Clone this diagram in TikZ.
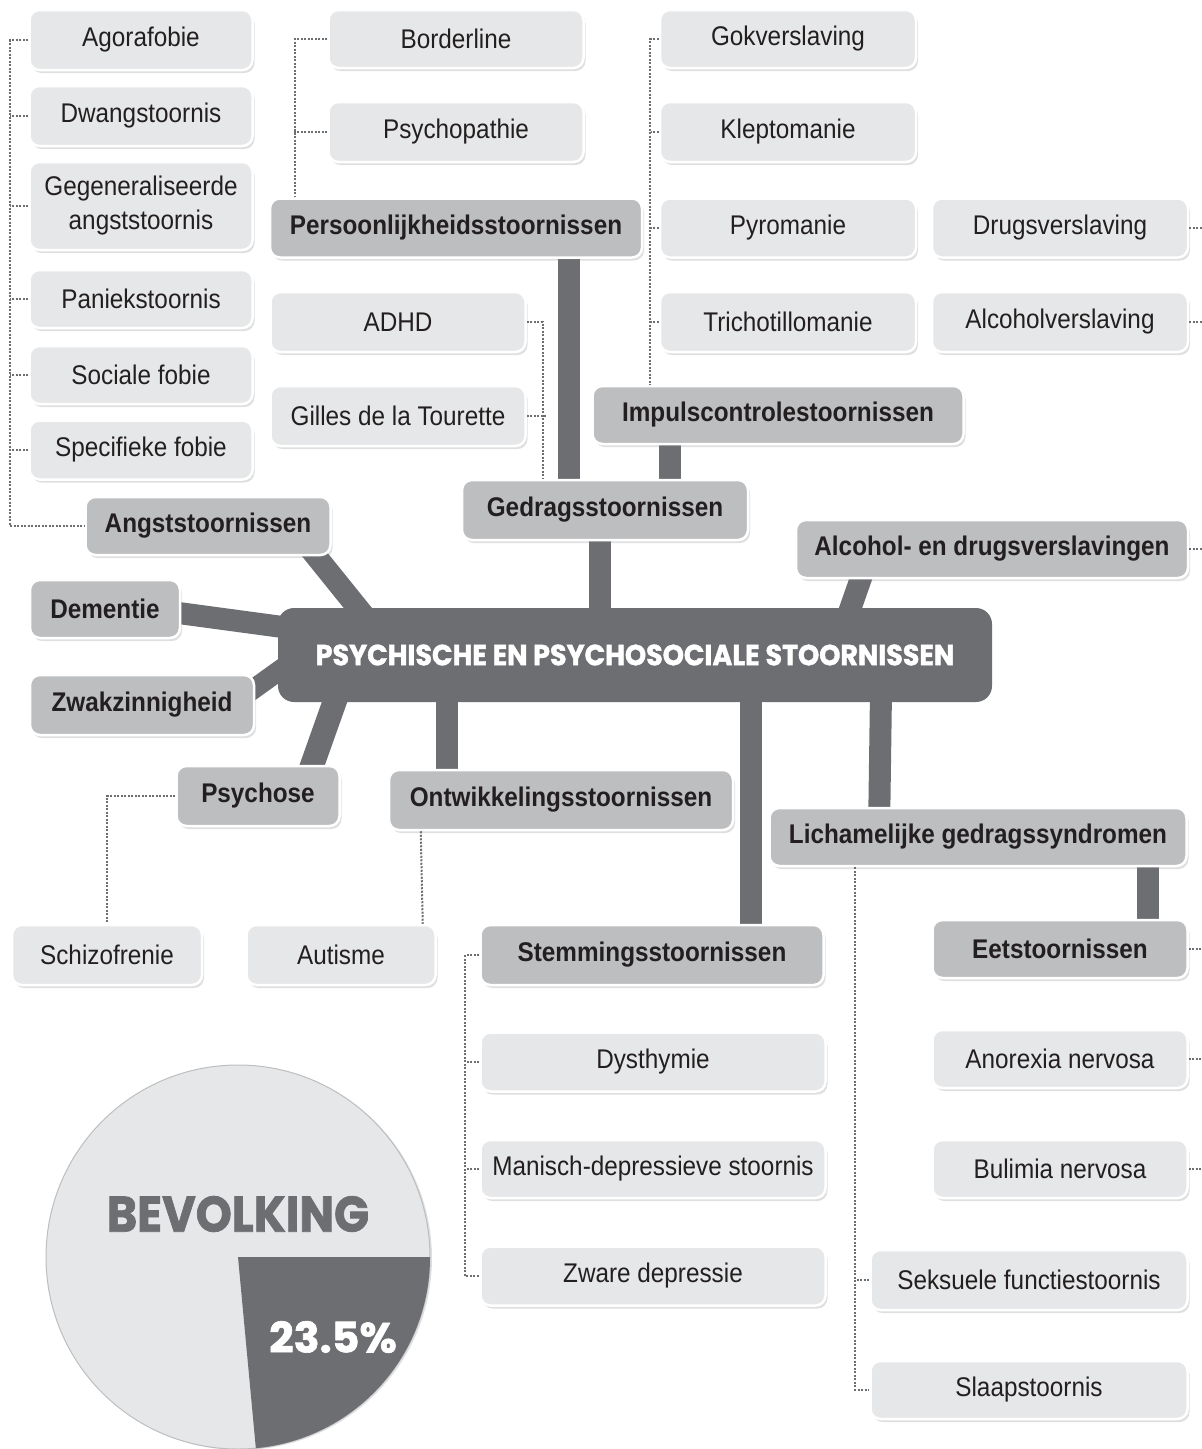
\documentclass[tikz,border=0pt]{standalone}
\usepackage{fontspec}
\setmainfont{Liberation Sans}[FakeStretch=0.9]
\newfontfamily\heavyfont{Poppins}[BoldFeatures={FakeBold=1.5}]
\usetikzlibrary{shadows,calc}
\definecolor{lightbox}{HTML}{E6E7E8}
\definecolor{darkbox}{HTML}{BCBEC0}
\definecolor{coregray}{HTML}{6D6E71}
\definecolor{inktext}{HTML}{231F20}
\pgfdeclarelayer{bg}
\pgfsetlayers{bg,main}
\tikzset{
  basebox/.style={rectangle, rounded corners=10pt, draw=white, line width=2.5pt,
    text=inktext, inner sep=0pt, align=center,
    font=\fontsize{27}{31}\selectfont,
    drop shadow={opacity=0.25, shadow xshift=2pt, shadow yshift=-3pt}},
  lbox/.style={basebox, fill=lightbox},
  dbox/.style={basebox, fill=darkbox, font=\fontsize{27}{31}\selectfont\bfseries},
  bar/.style={draw=coregray, line width=22pt},
  dotline/.style={draw=coregray, line width=2pt, dash pattern=on 2pt off 1.5pt},
}
\begin{document}
\begin{tikzpicture}[x=1pt,y=-1pt]
\useasboundingbox (0,0) rectangle (1202,1449);
% ---- central node
\node[rectangle, rounded corners=16pt, fill=coregray, minimum width=714pt, minimum height=94pt, inner sep=0pt,
  text=white, font=\heavyfont\bfseries\fontsize{29}{32}\selectfont] (core) at (635,655)
  {\scalebox{0.93}[1]{PSYCHISCHE EN PSYCHOSOCIALE STOORNISSEN}};
% ---- anxiety
\node[lbox, minimum width=223pt, minimum height=60pt] (ago) at (141,40) {Agorafobie};
\node[lbox, minimum width=223pt, minimum height=60pt] (dwang) at (141,116) {Dwangstoornis};
\node[lbox, minimum width=223pt, minimum height=88pt] (gegen) at (141,206) {Gegeneraliseerde\\[3pt]angststoornis};
\node[lbox, minimum width=223pt, minimum height=58pt] (paniek) at (141,299) {Paniekstoornis};
\node[lbox, minimum width=223pt, minimum height=58pt] (sociaal) at (141,375) {Sociale fobie};
\node[lbox, minimum width=223pt, minimum height=59pt] (specif) at (141,450) {Specifieke fobie};
\node[dbox, minimum width=245pt, minimum height=58pt] (angst) at (208,526) {Angststoornissen};
% ---- personality
\node[lbox, minimum width=255pt, minimum height=58pt] (border) at (456,39) {Borderline};
\node[lbox, minimum width=255pt, minimum height=60pt] (psychop) at (456,132) {Psychopathie};
\node[dbox, minimum width=372pt, minimum height=59pt] (perso) at (456,228) {Persoonlijkheidsstoornissen};
% ---- impulse control
\node[lbox, minimum width=256pt, minimum height=58pt] (gok) at (788,39) {Gokverslaving};
\node[lbox, minimum width=256pt, minimum height=60pt] (klepto) at (788,132) {Kleptomanie};
\node[lbox, minimum width=256pt, minimum height=59pt] (pyro) at (788,228) {Pyromanie};
\node[lbox, minimum width=256pt, minimum height=60pt] (tricho) at (788,322) {Trichotillomanie};
\node[dbox, minimum width=371pt, minimum height=58pt] (impuls) at (778,415) {Impulscontrolestoornissen};
% ---- addiction
\node[lbox, minimum width=256pt, minimum height=59pt] (drugs) at (1060,228) {Drugsverslaving};
\node[lbox, minimum width=256pt, minimum height=60pt] (alcohol) at (1060,322) {Alcoholverslaving};
\node[dbox, minimum width=392pt, minimum height=58pt] (verslav) at (992,549) {Alcohol- en drugsverslavingen};
% ---- behaviour
\node[lbox, minimum width=255pt, minimum height=60pt] (adhd) at (398,322) {ADHD};
\node[lbox, minimum width=255pt, minimum height=60pt] (gilles) at (398,416) {Gilles de la Tourette};
\node[dbox, minimum width=286pt, minimum height=60pt] (gedrag) at (605,510) {Gedragsstoornissen};
% ---- left
\node[dbox, minimum width=150pt, minimum height=58pt] (dement) at (105,609) {Dementie};
\node[dbox, minimum width=224pt, minimum height=60pt] (zwak) at (142,705) {Zwakzinnigheid};
\node[dbox, minimum width=163pt, minimum height=60pt] (psychose) at (258,796) {Psychose};
\node[dbox, minimum width=344pt, minimum height=60pt] (ontw) at (561,800) {Ontwikkelingsstoornissen};
\node[lbox, minimum width=190pt, minimum height=60pt] (schizo) at (107,955) {Schizofrenie};
\node[lbox, minimum width=189pt, minimum height=60pt] (autisme) at (341,955) {Autisme};
% ---- mood
\node[dbox, minimum width=343pt, minimum height=60pt] (stem) at (652,955) {Stemmingsstoornissen};
\node[lbox, minimum width=345pt, minimum height=59pt] (dysth) at (653,1062) {Dysthymie};
\node[lbox, minimum width=345pt, minimum height=58pt] (manisch) at (653,1169) {Manisch-depressieve stoornis};
\node[lbox, minimum width=345pt, minimum height=59pt] (zware) at (653,1276) {Zware depressie};
% ---- bodily
\node[dbox, minimum width=417pt, minimum height=58pt] (lich) at (978,837) {Lichamelijke gedragssyndromen};
\node[dbox, minimum width=255pt, minimum height=58pt] (eet) at (1060,949) {Eetstoornissen};
\node[lbox, minimum width=255pt, minimum height=58pt] (anorex) at (1060,1059) {Anorexia nervosa};
\node[lbox, minimum width=255pt, minimum height=58pt] (bulim) at (1060,1169) {Bulimia nervosa};
\node[lbox, minimum width=317pt, minimum height=60pt] (seks) at (1029,1280) {Seksuele functiestoornis};
\node[lbox, minimum width=317pt, minimum height=58pt] (slaap) at (1029,1390) {Slaapstoornis};
% ---- thick bars (behind)
\begin{pgfonlayer}{bg}
\draw[bar] ($(perso.south)+(113,-10)$) -- ($(gedrag.north)+(-36,10)$);
\draw[bar] ($(impuls.south)+(-108,-10)$) -- ($(gedrag.north)+(65,10)$);
\draw[bar] ($(gedrag.south)+(-5,-10)$) -- ($(core.north)+(-35,10)$);
\draw[bar] ($(angst.south)+(92,-20)$) -- ($(core.north west)+(96,20)$);
\draw[bar] ($(dement.east)+(-10,3)$) -- ($(core.west)+(12,-27)$);
\draw[line width=20pt, draw=coregray] ($(zwak.east)+(-10,-10)$) -- ($(core.west)+(12,8)$);
\draw[line width=24pt, draw=coregray] ($(psychose.north)+(50,12)$) -- ($(core.south west)+(62,-15)$);
\draw[bar] ($(ontw.north west)+(59,10)$) -- ($(ontw.north west)+(59,-90)$);
\draw[bar] ($(stem.north)+(99,10)$) -- ($(core.south)+(116,-10)$);
\draw[bar] ($(lich.north west)+(111,10)$) -- ($(core.south)+(246,-10)$);
\draw[bar] ($(eet.north)+(88,10)$) -- ($(lich.south)+(170,-10)$);
\draw[bar] ($(verslav.south west)+(70,-12)$) -- ($(core.north)+(210,16)$);
\end{pgfonlayer}
% ---- dotted connectors
\draw[dotline] (ago.west) -- ++(-18,0) |- (angst.west);
\draw[dotline] (dwang.west) -- ++(-18,0);
\draw[dotline] (gegen.west) -- ++(-18,0);
\draw[dotline] (paniek.west) -- ++(-18,0);
\draw[dotline] (sociaal.west) -- ++(-18,0);
\draw[dotline] (specif.west) -- ++(-18,0);
\draw[dotline] (border.west) -| ($(perso.north west)+(26,0)$);
\draw[dotline] (psychop.west) -- ++(-33,0);
\draw[dotline] (gok.west) -| ($(impuls.north west)+(59,0)$);
\draw[dotline] (klepto.west) -- ++(-8,0);
\draw[dotline] (pyro.west) -- ++(-8,0);
\draw[dotline] (tricho.west) -- ++(-8,0);
\draw[dotline] (adhd.east) -| ($(gedrag.north west)+(82,0)$);
\draw[dotline] (gilles.east) -- ++(19,0);
\draw[dotline] (psychose.west) -| (schizo.north);
\draw[dotline] ($(ontw.south west)+(33,0)$) -- ($(autisme.north east)+(-14,0)$);
\draw[dotline] (stem.west) -- ++(-14,0) |- (zware.west);
\draw[dotline] (dysth.west) -- ++(-14,0);
\draw[dotline] (manisch.west) -- ++(-14,0);
\draw[dotline] ($(lich.south west)+(87,0)$) |- (slaap.west);
\draw[dotline] (seks.west) -- ++(-14,0);
\coordinate (e1) at (1202,228);
\coordinate (e2) at (1202,322);
\coordinate (e3) at (1202,549);
\coordinate (e4) at (1202,949);
\coordinate (e5) at (1202,1059);
\coordinate (e6) at (1202,1169);
\draw[dotline] (drugs.east) -- (e1);
\draw[dotline] (alcohol.east) -- (e2);
\draw[dotline] (verslav.east) -- (e3);
\draw[dotline] (eet.east) -- (e4);
\draw[dotline] (anorex.east) -- (e5);
\draw[dotline] (bulim.east) -- (e6);
% ---- pie
\coordinate (pc) at (238,1257);
\fill[lightbox, draw=darkbox, line width=1pt, drop shadow={opacity=0.25, shadow xshift=2pt, shadow yshift=-1pt}] (pc) circle (192pt);
\begin{scope}
\clip (pc) circle (192pt);
\fill[coregray] (pc) -- (700,1257) -- (700,1900) -- (298,1900) -- cycle;
\end{scope}
\node[text=coregray, font=\heavyfont\bfseries\fontsize{50}{54}\selectfont, inner sep=0pt] (bev) at (238,1214) {\scalebox{0.92}[1]{BEVOLKING}};
\node[text=white, font=\heavyfont\bfseries\fontsize{42}{46}\selectfont, inner sep=0pt] (pct) at (333,1337) {\scalebox{1.02}[1]{23.5\%}};
\end{tikzpicture}
\end{document}
